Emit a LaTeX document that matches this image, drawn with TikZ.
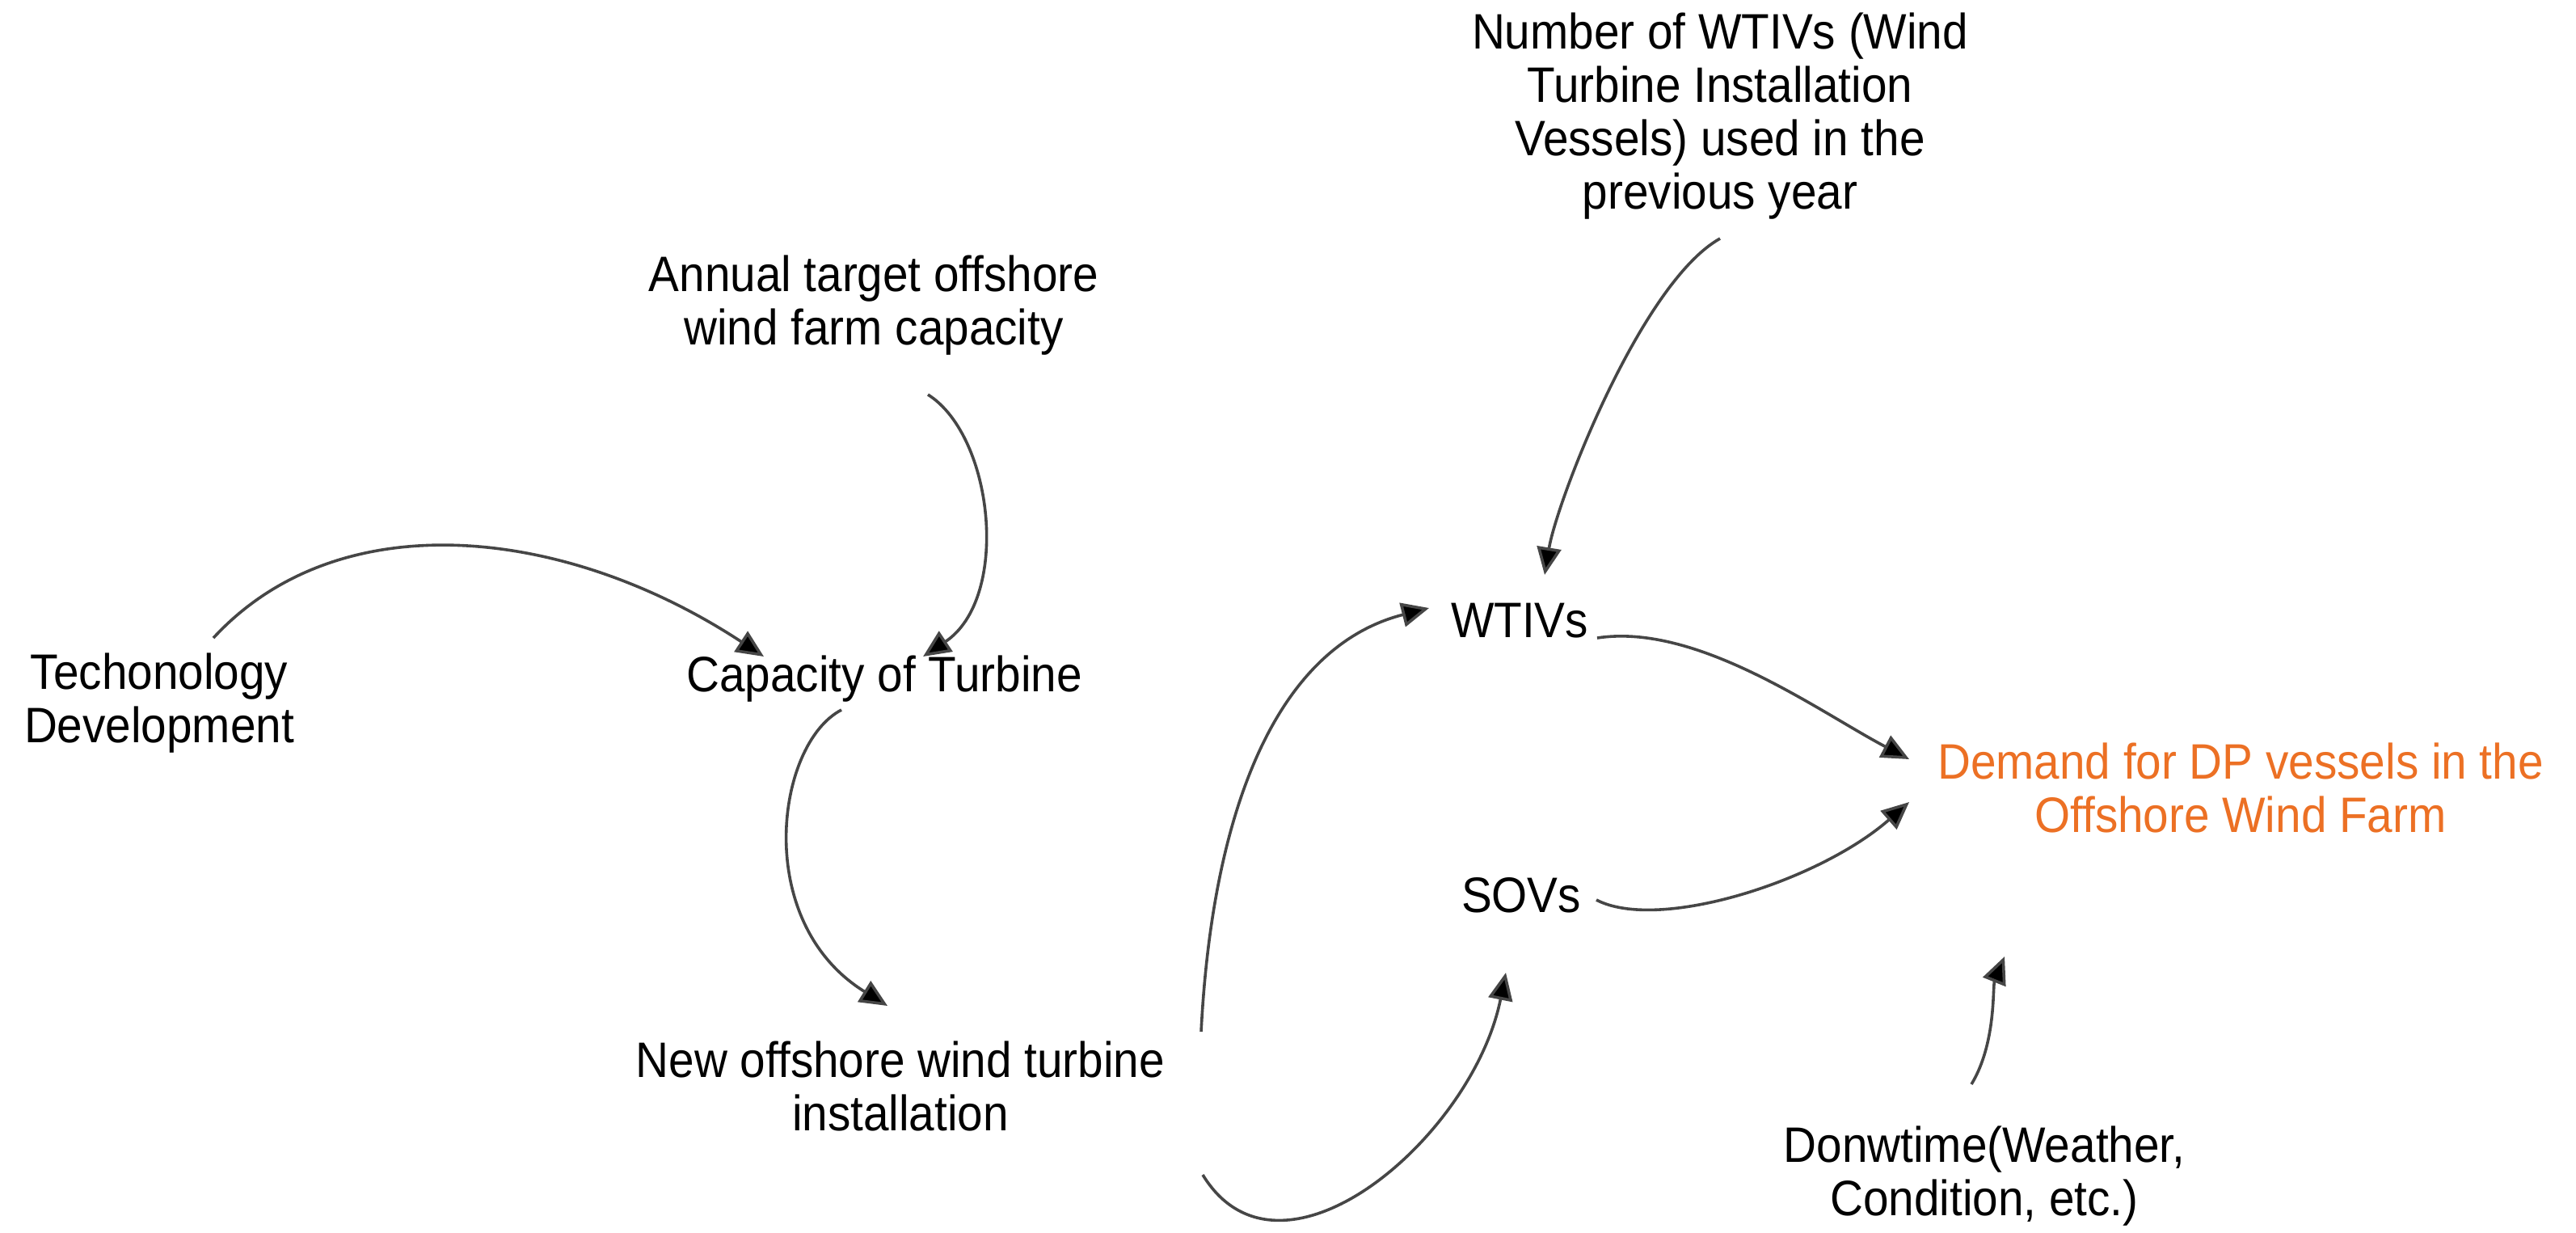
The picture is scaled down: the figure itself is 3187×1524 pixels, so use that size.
\documentclass[tikz,border=0pt]{standalone}
\usepackage{fontspec}
\setmainfont{Liberation Sans}[FakeStretch=0.92]
\usetikzlibrary{arrows.meta}
\definecolor{demandorange}{RGB}{236,112,36}
\definecolor{linkgray}{RGB}{70,70,70}
\begin{document}
\begin{tikzpicture}[x=0.25pt,y=-0.25pt,
  lbl/.style={inner sep=0pt,align=center,font=\fontsize{15.4pt}{16.5pt}\selectfont},
  link/.style={draw=linkgray,line width=0.9pt,-{Triangle[length=8.5pt,width=7.5pt,fill=black]}}]
\useasboundingbox (0,0) rectangle (3187,1524);
\node[lbl] (prev) at (2128,144) {Number of WTIVs (Wind\\Turbine Installation\\Vessels) used in the\\previous year};
\node[lbl] (annual) at (1081,378) {Annual target offshore\\wind farm capacity};
\node[lbl] (tech) at (197,870) {Techonology\\Development};
\node[lbl] (cap) at (1094,840) {Capacity of Turbine};
\node[lbl] (newinst) at (1114,1343) {New offshore wind turbine\\installation};
\node[lbl] (wtiv) at (1880,768) {WTIVs};
\node[lbl] (sov) at (1882,1107) {SOVs};
\node[lbl,text=demandorange] (demand) at (2772,974) {Demand for DP vessels in the\\Offshore Wind Farm};
\node[lbl] (down) at (2455,1455) {Donwtime(Weather,\\Condition, etc.)};
% connectors
\draw[link] ([shift={(67,-81)}]tech.center) .. controls ([shift={(223,-250)}]tech.center) and ([shift={(-394,-189)}]cap.center) .. ([shift={(-149,-28)}]cap.center);
\draw[link] ([shift={(67,110)}]annual.center) .. controls ([shift={(149,162)}]annual.center) and ([shift={(156,-100)}]cap.center) .. ([shift={(48,-28)}]cap.center);
\draw[link] ([shift={(-53,38)}]cap.center) .. controls ([shift={(-134,80)}]cap.center) and ([shift={(-184,-203)}]newinst.center) .. ([shift={(-16,-99)}]newinst.center);
\draw[link] ([shift={(372,-67)}]newinst.center) .. controls ([shift={(386,-343)}]newinst.center) and ([shift={(-300,32)}]wtiv.center) .. ([shift={(-112,-16)}]wtiv.center);
\draw[link] ([shift={(374,110)}]newinst.center) .. controls ([shift={(470,267)}]newinst.center) and ([shift={(-60,300)}]sov.center) .. ([shift={(-19,96)}]sov.center);
\draw[link] ([shift={(0,151)}]prev.center) .. controls ([shift={(-98,206)}]prev.center) and ([shift={(46,-148)}]wtiv.center) .. ([shift={(31,-57)}]wtiv.center);
\draw[link] ([shift={(96,21)}]wtiv.center) .. controls ([shift={(220,2)}]wtiv.center) and ([shift={(-522,-94)}]demand.center) .. ([shift={(-410,-35)}]demand.center);
\draw[link] ([shift={(93,6)}]sov.center) .. controls ([shift={(170,46)}]sov.center) and ([shift={(-522,116)}]demand.center) .. ([shift={(-410,18)}]demand.center);
\draw[link] ([shift={(-16,-114)}]down.center) .. controls ([shift={(15,-165)}]down.center) and ([shift={(-307,246)}]demand.center) .. ([shift={(-292,209)}]demand.center);
\end{tikzpicture}
\end{document}
